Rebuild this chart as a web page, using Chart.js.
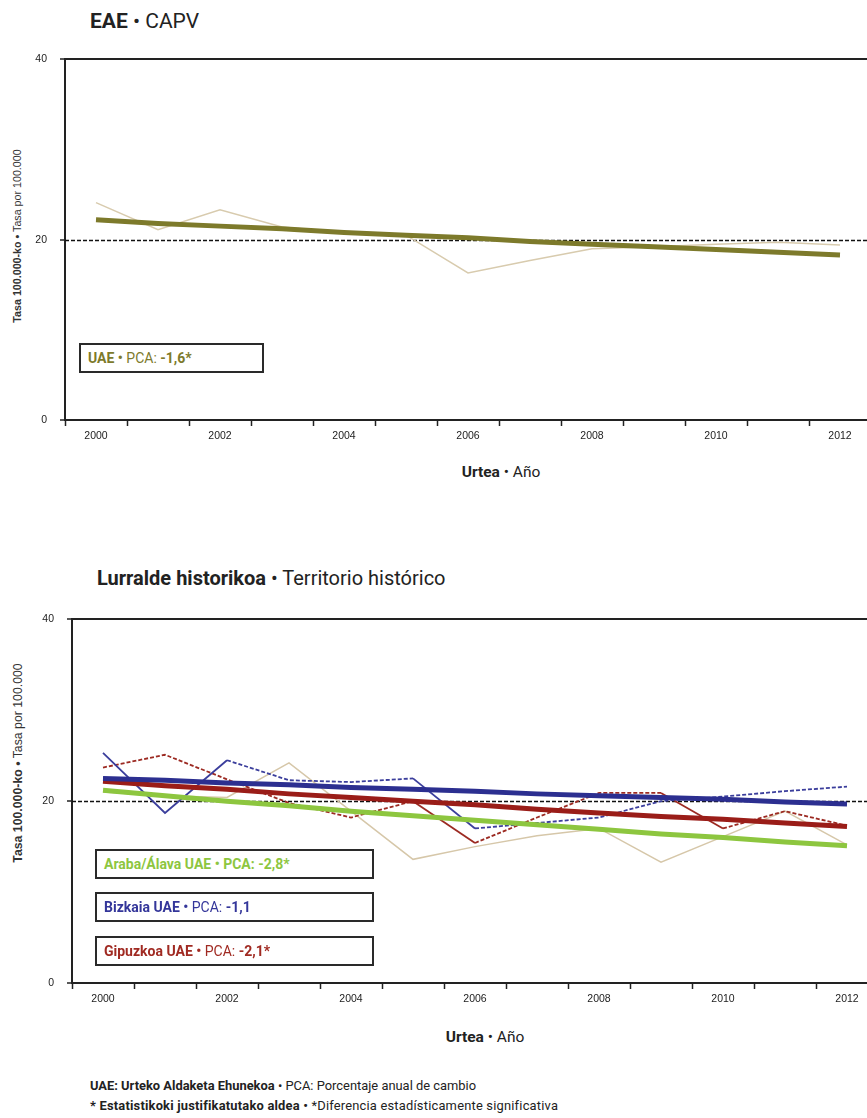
<!DOCTYPE html>
<html>
<head>
<meta charset="utf-8">
<script src="https://cdn.jsdelivr.net/npm/chart.js@4/dist/chart.umd.min.js"></script>
<style>
  html, body { margin: 0; padding: 0; background: #fff; }
  body { width: 867px; height: 1118px; position: relative; overflow: hidden;
         font-family: "Roboto", "Liberation Sans", sans-serif; color: #222; }
  .abs { position: absolute; white-space: nowrap; line-height: 1.2; }
  canvas { position: absolute; left: 0; }
  .ytitle { font-family: "Liberation Sans", Arial, sans-serif; transform: translate(-50%, -50%) rotate(-90deg); color: #333; }
  .xtitle { font-size: 15.5px; transform: translateX(-50%); }
  .box { border: 2px solid #2a2a2a; box-sizing: border-box; height: 30px; font-size: 14px; line-height: 26px; padding-left: 7px; background: #fff; }
  .foot { font-size: 12.9px; }
</style>
</head>
<body>

<div class="abs" style="left:90px; top:9px; font-size:21px;"><b>EAE</b> • CAPV</div>
<div class="abs ytitle" style="left:17px; top:236px; font-size:10.7px;"><b>Tasa 100.000-ko •</b> Tasa por 100.000</div>
<canvas id="eae" width="880" height="410" style="top:40px; width:880px; height:410px;"></canvas>
<div class="abs box" style="left:79px; top:343px; width:185px; color:#7d7a2b;"><b>UAE •</b> PCA: <b>-1,6*</b></div>
<div class="abs xtitle" style="left:501px; top:463px;"><b>Urtea</b> • Año</div>

<div class="abs" style="left:97px; top:566px; font-size:20px;"><b>Lurralde historikoa</b> • Territorio histórico</div>
<div class="abs ytitle" style="left:18px; top:763px; font-size:12.3px;"><b>Tasa 100.000-ko •</b> Tasa por 100.000</div>
<canvas id="lh" width="890" height="413" style="top:600px; width:890px; height:413px;"></canvas>
<div class="abs box" style="left:95px; top:849px; width:279px; color:#8dc63f;"><b>Araba/Álava UAE • PCA: -2,8*</b></div>
<div class="abs box" style="left:95px; top:892px; width:279px; color:#34369a;"><b>Bizkaia UAE •</b> PCA: <b>-1,1</b></div>
<div class="abs box" style="left:95px; top:936px; width:279px; color:#a02a22;"><b>Gipuzkoa UAE •</b> PCA: <b>-2,1*</b></div>
<div class="abs xtitle" style="left:485px; top:1028px;"><b>Urtea</b> • Año</div>

<div class="abs foot" style="left:90px; top:1078px;"><b>UAE: Urteko Aldaketa Ehunekoa</b> • PCA: Porcentaje anual de cambio</div>
<div class="abs foot" style="left:90px; top:1098px; letter-spacing:0.2px;"><b>* Estatistikoki justifikatutako aldea •</b> *Diferencia estadísticamente significativa</div>

<script>
// years on the x axis
var years = ['2000', '2001', '2002', '2003', '2004', '2005', '2006', '2007', '2008', '2009', '2010', '2011', '2012'];
var yTicks = [0, 20, 40];
var refValue = 20;

// EAE / CAPV
var eaeRate  = [24.1, 21.1, 23.3, 21.4, 20.8, 20.5, 16.3, 17.7, 19.0, 19.2, 19.5, 19.7, 19.4];
var eaeTrend = [22.2, 21.8, 21.5, 21.2, 20.8, 20.5, 20.2, 19.8, 19.5, 19.2, 18.9, 18.6, 18.3];

// Lurralde historikoak
var arabaRate     = [21.0, 20.6, 20.4, 24.2, 18.9, 13.6, 15.0, 16.2, 17.0, 13.3, 16.1, 18.9, 15.2];
var arabaTrend    = [21.2, 20.6, 20.0, 19.5, 18.9, 18.4, 17.9, 17.4, 16.9, 16.4, 16.0, 15.5, 15.1];
var bizkaiaRate   = [25.3, 18.7, 24.5, 22.3, 22.1, 22.5, 17.0, 17.6, 18.2, 20.0, 20.5, 21.1, 21.6];
var bizkaiaTrend  = [22.5, 22.3, 22.0, 21.8, 21.5, 21.3, 21.1, 20.8, 20.6, 20.4, 20.2, 19.9, 19.7];
var gipuzkoaRate  = [23.7, 25.1, 22.4, 19.8, 18.2, 20.0, 15.4, 18.2, 20.9, 20.9, 17.0, 18.9, 17.3];
var gipuzkoaTrend = [22.2, 21.7, 21.3, 20.8, 20.4, 20.0, 19.6, 19.1, 18.7, 18.3, 18.0, 17.6, 17.2];

// which segments of the thin lines are dashed (index of segment start)
var bizkaiaDashed  = [2, 3, 4, 6, 7, 8, 9, 10, 11];
var gipuzkoaDashed = [0, 1, 2, 3, 4, 6, 7, 8, 10, 11];

// dashed line at the reference value
var refLine = {
  id: 'refLine',
  beforeDatasetsDraw: function (chart) {
    var ctx = chart.ctx, a = chart.chartArea;
    var y = Math.round(chart.scales.y.getPixelForValue(refValue)) + 0.5;
    ctx.save();
    ctx.strokeStyle = '#111';
    ctx.lineWidth = 1.6;
    ctx.setLineDash([4, 2]);
    ctx.beginPath();
    ctx.moveTo(a.left, y);
    ctx.lineTo(a.right, y);
    ctx.stroke();
    ctx.restore();
  }
};

function makeOptions(yWidth, pad) {
  return {
    responsive: false,
    animation: false,
    layout: { padding: pad },
    plugins: { legend: { display: false }, tooltip: { enabled: false } },
    elements: { point: { radius: 0 }, line: { tension: 0 } },
    scales: {
      x: {
        type: 'category',
        offset: true,
        afterFit: function (s) { s.height = 30; },
        border: { color: '#222', width: 2 },
        grid: { offset: true, drawOnChartArea: false, tickLength: 6, tickColor: '#222', tickWidth: 1.5 },
        ticks: {
          autoSkip: false, maxRotation: 0, padding: 4, color: '#222',
          font: { family: '"Liberation Sans", Arial, sans-serif', size: 10.5 },
          callback: function (v, i) { return i % 2 === 0 ? years[i] : ''; }
        }
      },
      y: {
        min: 0, max: 40,
        afterFit: function (s) { s.width = yWidth; },
        afterBuildTicks: function (s) { s.ticks = yTicks.map(function (v) { return { value: v }; }); },
        border: { color: '#222', width: 2 },
        grid: {
          color: function (c) { return c.tick && c.tick.value === 40 ? '#222' : 'rgba(0,0,0,0)'; },
          lineWidth: 2, tickLength: 5, tickColor: '#222', tickWidth: 1.5
        },
        ticks: {
          padding: 13, color: '#222',
          font: { family: '"Liberation Sans", Arial, sans-serif', size: 10.5 }
        }
      }
    }
  };
}

new Chart(document.getElementById('eae'), {
  type: 'line',
  data: {
    labels: years,
    datasets: [
      { label: 'EAE', data: eaeRate, borderColor: '#d8cbae', borderWidth: 1.5, order: 2 },
      { label: 'EAE UAE', data: eaeTrend, borderColor: '#7d7a2b', borderWidth: 5, order: 1 }
    ]
  },
  options: makeOptions(65, { top: 12, right: 9, left: 0, bottom: 0 }),
  plugins: [refLine]
});

new Chart(document.getElementById('lh'), {
  type: 'line',
  data: {
    labels: years,
    datasets: [
      { label: 'Araba/Álava', data: arabaRate, borderColor: '#d6c7a9', borderWidth: 1.5, order: 4 },
      { label: 'Bizkaia', data: bizkaiaRate, borderColor: '#3b3e9c', borderWidth: 1.8, order: 3,
        segment: { borderDash: function (c) { return bizkaiaDashed.indexOf(c.p0DataIndex) >= 0 ? [4, 2] : undefined; } } },
      { label: 'Gipuzkoa', data: gipuzkoaRate, borderColor: '#9c2a22', borderWidth: 1.8, order: 3,
        segment: { borderDash: function (c) { return gipuzkoaDashed.indexOf(c.p0DataIndex) >= 0 ? [4, 2] : undefined; } } },
      { label: 'Araba/Álava UAE', data: arabaTrend, borderColor: '#8dc63f', borderWidth: 5, order: 1 },
      { label: 'Gipuzkoa UAE', data: gipuzkoaTrend, borderColor: '#9a1d18', borderWidth: 5, order: 2 },
      { label: 'Bizkaia UAE', data: bizkaiaTrend, borderColor: '#2c2f90', borderWidth: 5, order: 1 }
    ]
  },
  options: makeOptions(72, { top: 18, right: 12, left: 0, bottom: 0 }),
  plugins: [refLine]
});
</script>
</body>
</html>
